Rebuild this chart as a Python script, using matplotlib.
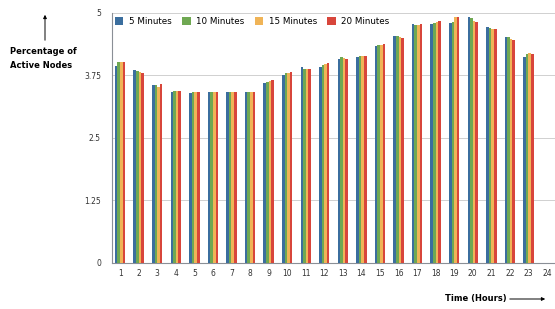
import matplotlib
matplotlib.use("Agg")
import matplotlib.pyplot as plt
import numpy as np

hours = list(range(1, 25))
series_names = ["5 Minutes", "10 Minutes", "15 Minutes", "20 Minutes"]
five_min = [3.94, 3.85, 3.56, 3.41, 3.39, 3.41, 3.42, 3.42, 3.60, 3.75, 3.91, 3.91,
            4.08, 4.12, 4.34, 4.54, 4.78, 4.77, 4.79, 4.91, 4.71, 4.52, 4.12]
ten_min = [4.02, 3.83, 3.55, 3.44, 3.42, 3.41, 3.42, 3.42, 3.61, 3.79, 3.88, 3.96,
           4.11, 4.14, 4.36, 4.53, 4.76, 4.79, 4.82, 4.89, 4.69, 4.51, 4.17]
fifteen_min = [4.02, 3.81, 3.52, 3.43, 3.42, 3.41, 3.42, 3.42, 3.63, 3.80, 3.87, 3.98,
               4.09, 4.14, 4.36, 4.51, 4.75, 4.82, 4.92, 4.84, 4.67, 4.47, 4.19]
twenty_min = [4.01, 3.80, 3.57, 3.43, 3.42, 3.41, 3.42, 3.42, 3.65, 3.81, 3.87, 3.99,
              4.07, 4.13, 4.37, 4.49, 4.77, 4.84, 4.91, 4.81, 4.67, 4.45, 4.17]
y_ticks = [0, 1.25, 2.5, 3.75, 5]
y_tick_labels = ["0", "1.25", "2.5", "3.75", "5"]

colors = ["#3b6e9e", "#6fa852", "#f0b457", "#d8463b"]
data = [five_min, ten_min, fifteen_min, twenty_min]

fig = plt.figure(figsize=(5.55, 3.09), dpi=100)
ax = fig.add_axes([0.202, 0.149, 0.798, 0.810])

bw = 0.14
for i, (vals, c, name) in enumerate(zip(data, colors, series_names)):
    x = np.arange(1, len(vals) + 1) + (i - 1.5) * bw
    ax.bar(x, vals, width=bw, color=c, label=name, zorder=3)

ax.set_xlim(0.57, 24.43)
ax.set_ylim(0, 5)
ax.set_xticks(hours)
ax.set_xticklabels([str(h) for h in hours], fontsize=5.5, color="#333333")
ax.set_yticks(y_ticks)
ax.set_yticklabels(y_tick_labels, fontsize=5.5, color="#333333")
ax.tick_params(axis="x", length=0, pad=4)
ax.tick_params(axis="y", length=0, pad=8)
ax.grid(axis="y", color="#d0d0d0", linewidth=0.7, zorder=0)
for s in ["top", "right"]:
    ax.spines[s].set_visible(False)
for s in ["left", "bottom"]:
    ax.spines[s].set_color("#8a8f96")
    ax.spines[s].set_linewidth(0.8)

ax.legend(loc="upper left", ncol=4, frameon=False, fontsize=6.3,
          handlelength=1.0, handleheight=1.0, columnspacing=1.2,
          handletextpad=0.6, bbox_to_anchor=(-0.012, 1.015))

fig.text(10 / 555, 1 - 51 / 309, "Percentage of", fontsize=6, fontweight="bold",
         ha="left", va="center")
fig.text(10 / 555, 1 - 65 / 309, "Active Nodes", fontsize=6, fontweight="bold",
         ha="left", va="center")
fig.add_artist(matplotlib.patches.FancyArrowPatch(
    (45 / 555, 1 - 43 / 309), (45 / 555, 1 - 12 / 309),
    transform=fig.transFigure, arrowstyle="-|>", mutation_scale=5,
    color="black", linewidth=0.7))

fig.text(445 / 555, 1 - 299 / 309, "Time (Hours)", fontsize=6, fontweight="bold",
         ha="left", va="center")
fig.add_artist(matplotlib.patches.FancyArrowPatch(
    (507 / 555, 1 - 299 / 309), (548 / 555, 1 - 299 / 309),
    transform=fig.transFigure, arrowstyle="-|>", mutation_scale=5,
    color="black", linewidth=0.7))

fig.savefig("out.png", dpi=100)
